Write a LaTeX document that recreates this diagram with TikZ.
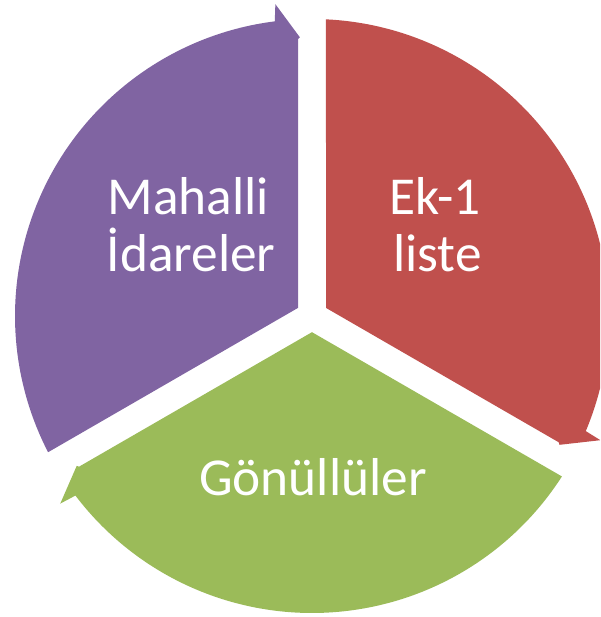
\documentclass[tikz,border=0pt]{standalone}
\usepackage{fontspec}
\setmainfont{Carlito}
\definecolor{segpurple}{RGB}{128,100,162}
\definecolor{segred}{RGB}{192,80,77}
\definecolor{seggreen}{RGB}{155,187,89}
\newcommand\segshape{(-14,8.1) -- (-14,277) -- (92.5:279) -- (96.7:314) -- (97.2:297) arc[start angle=97.2, end angle=207.3, radius=297] -- cycle}
\begin{document}
\begin{tikzpicture}[x=0.75pt,y=0.75pt,
  lbl/.style={text=white, font=\fontsize{40}{48}\selectfont, anchor=base, inner sep=0pt}]
\useasboundingbox (-312,-301) rectangle (288,316);
\clip (-312,-301) rectangle (288,316);
\fill[segpurple] \segshape;
\begin{scope}[rotate=-120]
  \fill[segred] \segshape;
\end{scope}
\begin{scope}[rotate=120]
  \fill[seggreen] \segshape;
\end{scope}
\node[lbl] (m1) at (-123.5,101) {Mahalli};
\node[lbl] (m2) at (-121,44) {İdareler};
\node[lbl] (e1) at (123,101) {Ek-1};
\node[lbl] (e2) at (125.5,44) {liste};
\node[lbl] (g1) at (1,-179) {Gönüllüler};
\end{tikzpicture}
\end{document}
